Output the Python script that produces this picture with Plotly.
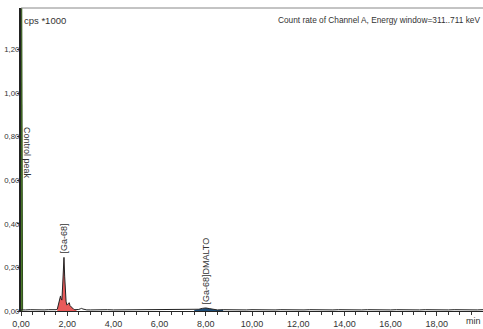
import plotly.graph_objects as go

# ---- data ----
time_min = [0.00, 0.08, 0.20, 0.40, 0.60, 0.80, 1.00, 1.20, 1.40, 1.52,
            1.57, 1.62, 1.67, 1.71, 1.74, 1.77, 1.80, 1.83, 1.86, 1.89,
            1.92, 1.95, 1.98, 2.02, 2.06, 2.09, 2.12, 2.16, 2.19, 2.23,
            2.28, 2.33, 2.40, 2.50, 2.57, 2.62, 2.68, 2.75, 2.85, 3.00,
            3.25, 3.50, 3.75, 4.00, 4.25, 4.50, 4.75, 5.00, 5.25, 5.50,
            5.75, 6.00, 6.25, 6.50, 6.75, 7.00, 7.25, 7.50, 7.70, 7.85,
            8.00, 8.15, 8.30, 8.50, 8.75, 9.00, 9.25, 9.50, 9.75, 10.00,
            10.25, 10.50, 10.75, 11.00, 11.25, 11.50, 11.75, 12.00, 12.25, 12.50,
            12.75, 13.00, 13.25, 13.50, 13.75, 14.00, 14.25, 14.50, 14.75, 15.00,
            15.25, 15.50, 15.75, 16.00, 16.25, 16.50, 16.75, 17.00, 17.25, 17.50,
            17.75, 18.00, 18.25, 18.50, 18.75, 19.00, 19.25, 19.50, 19.75, 20.00]
count_rate = [0.005, 0.006, 0.005, 0.006, 0.005, 0.006, 0.005, 0.006, 0.005, 0.006,
              0.008, 0.030, 0.062, 0.069, 0.055, 0.050, 0.110, 0.190, 0.246, 0.160,
              0.090, 0.045, 0.028, 0.030, 0.036, 0.038, 0.025, 0.020, 0.021, 0.012,
              0.008, 0.006, 0.005, 0.007, 0.010, 0.012, 0.009, 0.006, 0.005, 0.005,
              0.006, 0.005, 0.006, 0.005, 0.005, 0.006, 0.005, 0.006, 0.005, 0.005,
              0.006, 0.005, 0.005, 0.006, 0.005, 0.006, 0.005, 0.005, 0.008, 0.012,
              0.014, 0.011, 0.007, 0.005, 0.006, 0.005, 0.006, 0.005, 0.005, 0.006,
              0.005, 0.006, 0.005, 0.005, 0.006, 0.005, 0.006, 0.005, 0.005, 0.006,
              0.005, 0.006, 0.005, 0.005, 0.006, 0.005, 0.006, 0.005, 0.005, 0.006,
              0.005, 0.006, 0.005, 0.005, 0.006, 0.005, 0.006, 0.005, 0.005, 0.006,
              0.005, 0.006, 0.005, 0.005, 0.006, 0.005, 0.006, 0.005, 0.005, 0.006]

control_time = [0.00, 0.03, 0.07]
control_rate = [1.50, 1.50, 0.005]

ga_start, ga_end = 10, 32        # index range of the [Ga-68] peak
dm_start, dm_end = 57, 64        # index range of the [Ga-68]DMALTO peak

peak_names = ["Control peak", "[Ga-68]", "[Ga-68]DMALTO"]
peak_times = [0.00, 1.86, 8.03]
peak_heights = [0.725, 0.25, 0.016]

x_ticks = [0, 2, 4, 6, 8, 10, 12, 14, 16, 18]
x_ticktext = ["0,00", "2,00", "4,00", "6,00", "8,00", "10,00", "12,00", "14,00", "16,00", "18,00"]
y_ticks = [0, 0.2, 0.4, 0.6, 0.8, 1.0, 1.2]
y_ticktext = ["0,00", "0,20", "0,40", "0,60", "0,80", "1,00", "1,20"]

FONT = "Liberation Sans, Arial, sans-serif"
TXT = "#333333"

fig = go.Figure()

fig.add_trace(go.Scatter(x=control_time, y=control_rate, mode="lines",
                         fill="tozeroy", fillcolor="#4a7a2a",
                         line=dict(color="#2f4f1a", width=1), hoverinfo="skip"))
fig.add_trace(go.Scatter(x=time_min[ga_start:ga_end + 1], y=count_rate[ga_start:ga_end + 1],
                         mode="lines", fill="tozeroy", fillcolor="#e85a5a",
                         line=dict(color="rgba(0,0,0,0)", width=0), hoverinfo="skip"))
fig.add_trace(go.Scatter(x=time_min[dm_start:dm_end + 1], y=count_rate[dm_start:dm_end + 1],
                         mode="lines", fill="tozeroy", fillcolor="#1f4e79",
                         line=dict(color="rgba(0,0,0,0)", width=0), hoverinfo="skip"))
fig.add_trace(go.Scatter(x=time_min, y=count_rate, mode="lines",
                         line=dict(color="#222222", width=1), hoverinfo="skip"))

# peak labels
fig.add_annotation(x=peak_times[0], y=peak_heights[0], text=peak_names[0], textangle=90,
                   showarrow=False, xanchor="left", yanchor="middle", xshift=-1,
                   font=dict(family=FONT, size=9, color=TXT))
fig.add_annotation(x=peak_times[1], y=peak_heights[1], text=peak_names[1], textangle=-90,
                   showarrow=False, xanchor="center", yanchor="bottom", yshift=1,
                   font=dict(family=FONT, size=9, color=TXT))
fig.add_annotation(x=peak_times[2], y=peak_heights[2], text=peak_names[2], textangle=-90,
                   showarrow=False, xanchor="center", yanchor="bottom", yshift=1,
                   font=dict(family=FONT, size=9, color=TXT))

fig.add_annotation(xref="paper", yref="paper", x=0.003, y=0.985, text="cps *1000",
                   showarrow=False, xanchor="left", yanchor="top",
                   font=dict(family=FONT, size=9.5, color=TXT))
fig.add_annotation(xref="paper", yref="paper", x=0.998, y=0.985,
                   text="Count rate of Channel A, Energy window=311..711 keV",
                   showarrow=False, xanchor="right", yanchor="top",
                   font=dict(family=FONT, size=8.3, color=TXT))
fig.add_annotation(xref="paper", yref="paper", x=1.0, y=0, yshift=-10, text="min",
                   showarrow=False, xanchor="right", yanchor="middle",
                   font=dict(family=FONT, size=9, color=TXT))

# top frame line
fig.add_shape(type="line", xref="paper", yref="paper", x0=0, x1=1, y0=1, y1=1,
              line=dict(color="#888888", width=1))

fig.update_xaxes(range=[0, 20], tickvals=x_ticks, ticktext=x_ticktext, automargin=False,
                 ticks="outside", ticklen=4, tickcolor="#333", showgrid=False,
                 zeroline=False, showline=True, linecolor="#222", linewidth=1,
                 tickfont=dict(family=FONT, size=9, color=TXT),
                 minor=dict(dtick=0.5, tick0=0, ticks="outside", ticklen=3, tickcolor="#333"))
fig.update_yaxes(range=[0, 1.39], tickvals=y_ticks, ticktext=y_ticktext, automargin=False,
                 ticks="outside", ticklen=2, tickcolor="#333", showgrid=False,
                 zeroline=False, showline=True, linecolor="#222", linewidth=2,
                 ticklabelstandoff=-4,
                 tickfont=dict(family=FONT, size=7.8, color=TXT))

fig.update_layout(width=483, height=329, margin=dict(l=21, r=0, t=8, b=18, autoexpand=False),
                  paper_bgcolor="white", plot_bgcolor="white", showlegend=False)

fig.write_html("out.html")
